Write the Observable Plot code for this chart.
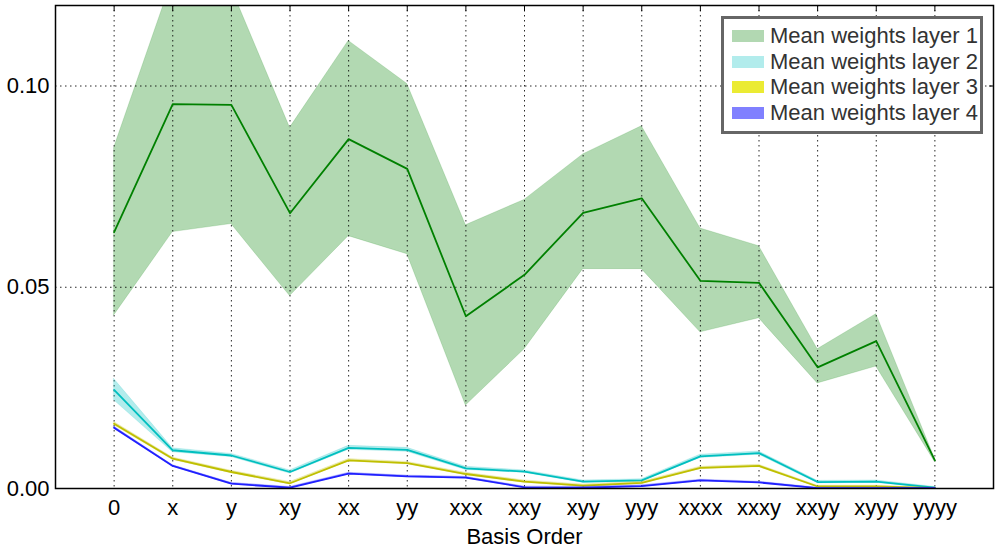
<!DOCTYPE html>
<html>
<head>
<meta charset="utf-8">
<script src="https://cdn.jsdelivr.net/npm/d3@7"></script>
<script src="https://cdn.jsdelivr.net/npm/@observablehq/plot@0.6"></script>
<style>
  html, body { margin: 0; padding: 0; background: #fff; }
  #wrap { position: relative; width: 1000px; height: 550px; font-family: "Liberation Sans", Arial, sans-serif; }
  #legend { position: absolute; left: 721px; top: 16px; width: 256px; height: 112px; border: 3px solid #666; background: #fff; box-sizing: content-box; }
  .row { position: absolute; left: 0; height: 26px; display: flex; align-items: center; }
  .patch { position: absolute; left: 8px; width: 32px; height: 12px; }
  .lab { position: absolute; left: 46px; font-size: 22px; color: #333; white-space: nowrap; line-height: 26px; }
</style>
</head>
<body>
<div id="wrap"></div>
<script>
const labels = ["0","x","y","xy","xx","yy","xxx","xxy","xyy","yyy","xxxx","xxxy","xxyy","xyyy","yyyy"];

const layer1Mean = [0.0637,0.0955,0.0953,0.0684,0.0868,0.0794,0.0428,0.0531,0.0685,0.0721,0.0516,0.0511,0.0301,0.0366,0.0070];
const layer1Lo   = [0.0430,0.0637,0.0657,0.0478,0.0627,0.0582,0.0206,0.0346,0.0545,0.0545,0.0388,0.0423,0.0261,0.0303,0.0066];
const layer1Hi   = [0.0846,0.1266,0.1243,0.0896,0.1112,0.1005,0.0654,0.0717,0.0830,0.0900,0.0646,0.0602,0.0346,0.0433,0.0074];

const layer2Mean = [0.0245,0.0095,0.0082,0.0041,0.0101,0.0096,0.0050,0.0042,0.0017,0.0020,0.0080,0.0088,0.0016,0.0017,0.0002];
const layer2Lo   = [0.0219,0.0090,0.0078,0.0037,0.0096,0.0091,0.0046,0.0039,0.0014,0.0017,0.0076,0.0084,0.0013,0.0014,0.0000];
const layer2Hi   = [0.0272,0.0100,0.0086,0.0045,0.0106,0.0101,0.0054,0.0045,0.0020,0.0023,0.0084,0.0092,0.0019,0.0020,0.0004];

const layer3Mean = [0.0161,0.0074,0.0041,0.0013,0.0070,0.0063,0.0036,0.0017,0.0007,0.0014,0.0051,0.0056,0.0005,0.0005,0.0001];
const layer3Lo   = [0.0157,0.0071,0.0038,0.0010,0.0067,0.0060,0.0033,0.0014,0.0004,0.0011,0.0048,0.0053,0.0003,0.0003,0.0000];
const layer3Hi   = [0.0165,0.0077,0.0044,0.0016,0.0073,0.0066,0.0039,0.0020,0.0010,0.0017,0.0054,0.0059,0.0007,0.0007,0.0002];

const layer4Mean = [0.0151,0.0056,0.0012,0.0002,0.0037,0.0030,0.0027,0.0003,0.0002,0.0006,0.0020,0.0015,0.0001,0.0001,0.0001];
const layer4Lo   = [0.0148,0.0054,0.0010,0.0000,0.0035,0.0028,0.0025,0.0001,0.0000,0.0004,0.0018,0.0013,0.0000,0.0000,0.0000];
const layer4Hi   = [0.0154,0.0058,0.0014,0.0004,0.0039,0.0032,0.0029,0.0005,0.0004,0.0008,0.0022,0.0017,0.0002,0.0002,0.0002];

const yTicks = [0, 0.05, 0.10];
const legendNames = ["Mean weights layer 1","Mean weights layer 2","Mean weights layer 3","Mean weights layer 4"];

const layers = [
  {mean: layer1Mean, lo: layer1Lo, hi: layer1Hi, fill: "#008000", line: "#008000", patch: "#b2d8b2"},
  {mean: layer2Mean, lo: layer2Lo, hi: layer2Hi, fill: "#00bfbf", line: "#00bfbf", patch: "#b2ecec"},
  {mean: layer3Mean, lo: layer3Lo, hi: layer3Hi, fill: "#bfbf00", line: "#bfbf00", patch: "#ebeb33"},
  {mean: layer4Mean, lo: layer4Lo, hi: layer4Hi, fill: "#0000ff", line: "#2020ff", patch: "#8080ff"}
];

const idx = labels.map((d, i) => i);
const tables = layers.map(L => idx.map(i => ({i, mean: L.mean[i], lo: L.lo[i], hi: L.hi[i]})));

const bandMarks = (k) => [
  Plot.areaY(tables[k], {x: "i", y1: "lo", y2: "hi", fill: layers[k].fill, fillOpacity: 0.3, stroke: layers[k].fill, strokeOpacity: 0.15, clip: true}),
];
const lineMarks = (k) => [
  Plot.lineY(tables[k], {x: "i", y: "mean", stroke: layers[k].line, strokeWidth: 1.8, clip: true})
];

const chart = Plot.plot({
  width: 1000,
  height: 550,
  marginLeft: 55,
  marginRight: 7,
  marginTop: 5,
  marginBottom: 62,
  style: {fontFamily: "'Liberation Sans', Arial, sans-serif", fontSize: "22px", color: "#000", background: "#fff"},
  x: {domain: [-1, 15], ticks: idx, tickFormat: i => labels[i]},
  y: {domain: [0, 0.12], ticks: yTicks, tickFormat: d3.format(".2f")},
  marks: [
    ...bandMarks(0),
    Plot.gridX(idx, {stroke: "#000", strokeOpacity: 0.85, strokeDasharray: "1.5,3.5", strokeWidth: 1}),
    Plot.gridY(yTicks.slice(1), {stroke: "#000", strokeOpacity: 0.85, strokeDasharray: "1.5,3.5", strokeWidth: 1}),
    ...lineMarks(0),
    ...bandMarks(1), ...lineMarks(1),
    ...bandMarks(2), ...lineMarks(2),
    ...bandMarks(3), ...lineMarks(3),
    Plot.axisX(idx, {anchor: "bottom", tickSize: 0, tickPadding: 11, tickFormat: i => labels[i], fontSize: 22, label: null}),
    Plot.axisX(idx, {anchor: "top", tickSize: -5, tickFormat: () => "", label: null}),
    Plot.axisY(yTicks, {anchor: "left", tickSize: 0, tickPadding: 6, tickFormat: d3.format(".2f"), fontSize: 22, label: null}),
    Plot.axisY(yTicks, {anchor: "right", tickSize: -5, tickFormat: () => "", label: null}),
    Plot.frame({stroke: "#000", strokeWidth: 1.5}),
    Plot.text(["Basis Order"], {frameAnchor: "bottom", dy: 55, fontSize: 22, fill: "#000"})
  ]
});

const wrap = document.getElementById("wrap");
wrap.appendChild(chart);

const legend = document.createElement("div");
legend.id = "legend";
layers.forEach((L, k) => {
  const row = document.createElement("div");
  row.className = "row";
  row.style.top = (4 + k * 25.5) + "px";
  const p = document.createElement("div");
  p.className = "patch";
  p.style.background = L.patch;
  p.style.top = "7px";
  const t = document.createElement("div");
  t.className = "lab";
  t.textContent = legendNames[k];
  row.appendChild(p);
  row.appendChild(t);
  legend.appendChild(row);
});
wrap.appendChild(legend);
</script>
</body>
</html>
